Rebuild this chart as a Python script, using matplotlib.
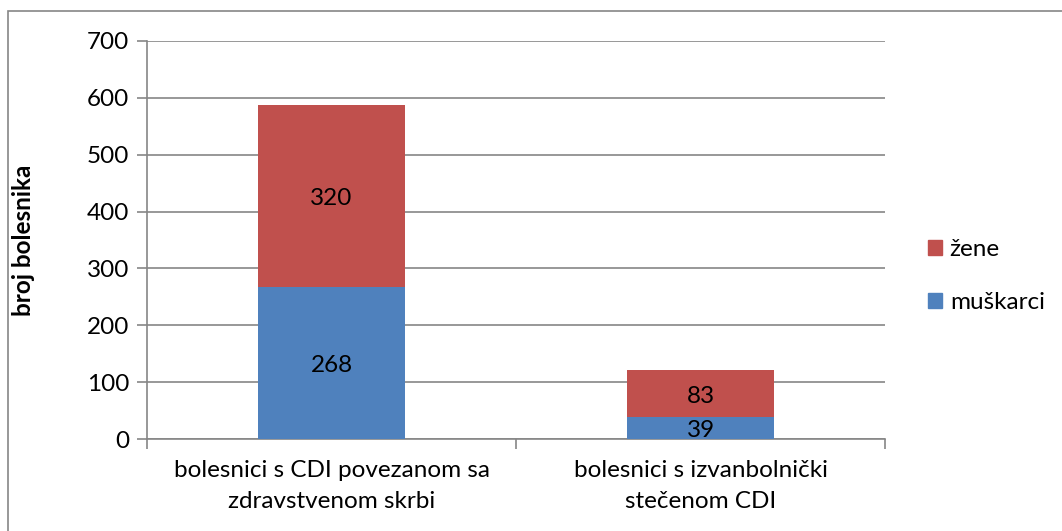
import matplotlib
matplotlib.use("Agg")
import matplotlib.pyplot as plt  # noqa: E402
from matplotlib.patches import Rectangle, Patch  # noqa: E402

categories = ["bolesnici s CDI povezanom sa\nzdravstvenom skrbi",
              "bolesnici s izvanbolnički\nstečenom CDI"]
muskarci = [268, 39]
zene = [320, 83]
yticks = [0, 100, 200, 300, 400, 500, 600, 700]

BLUE = "#4f81bd"
RED = "#c0504d"
GREY = "#868686"
FS = 17.5

plt.rcParams["font.family"] = ["Lato", "DejaVu Sans"]

fig = plt.figure(figsize=(10.62, 5.31), dpi=100)
fig.patches.append(Rectangle((8 / 1062, -0.01), 1.02, 1 - 11 / 531 + 0.01,
                             transform=fig.transFigure, fill=False,
                             edgecolor=GREY, lw=1.2))
ax = fig.add_axes([147 / 1062, 1 - 439 / 531, (885 - 147) / 1062, (439 - 41) / 531])

xs = [0.5, 1.5]
b1 = ax.bar(xs, muskarci, width=0.4, color=BLUE, label="muškarci", zorder=3)
b2 = ax.bar(xs, zene, width=0.4, bottom=muskarci, color=RED, label="žene", zorder=3)
for vals, bases in ((muskarci, [0, 0]), (zene, muskarci)):
    for x, v, b in zip(xs, vals, bases):
        ax.text(x, b + v / 2 - 5, str(v), ha="center", va="center", fontsize=FS, zorder=4)

ax.set_xlim(0, 2)
ax.set_ylim(0, 700)
ax.set_yticks(yticks)
ax.set_xticks([0, 1, 2])
ax.set_xticklabels([])
ax.set_xticks(xs, minor=True)
ax.set_xticklabels(categories, minor=True, fontsize=FS, linespacing=1.6)
ax.tick_params(axis="x", which="minor", length=0, pad=15)
ax.tick_params(axis="x", which="major", length=7, color=GREY, width=1.2)
ax.tick_params(axis="y", length=7, color=GREY, width=1.2, labelsize=FS, pad=6)
ax.yaxis.grid(True, color=GREY, lw=1.2, zorder=0)
for s in ("top", "right"):
    ax.spines[s].set_visible(False)
for s in ("left", "bottom"):
    ax.spines[s].set_color(GREY)
    ax.spines[s].set_linewidth(1.2)
ax.set_ylabel("broj bolesnika", fontsize=17.5, fontweight="bold", labelpad=37)

handles = [Patch(color=RED, label="žene"), Patch(color=BLUE, label="muškarci")]
fig.legend(handles=handles, loc="center left", bbox_to_anchor=(906 / 1062, 1 - 276 / 531),
           frameon=False, fontsize=FS, handlelength=0.6, handleheight=0.6,
           handletextpad=0.3, labelspacing=1.3)

fig.savefig("out.png", dpi=100)
